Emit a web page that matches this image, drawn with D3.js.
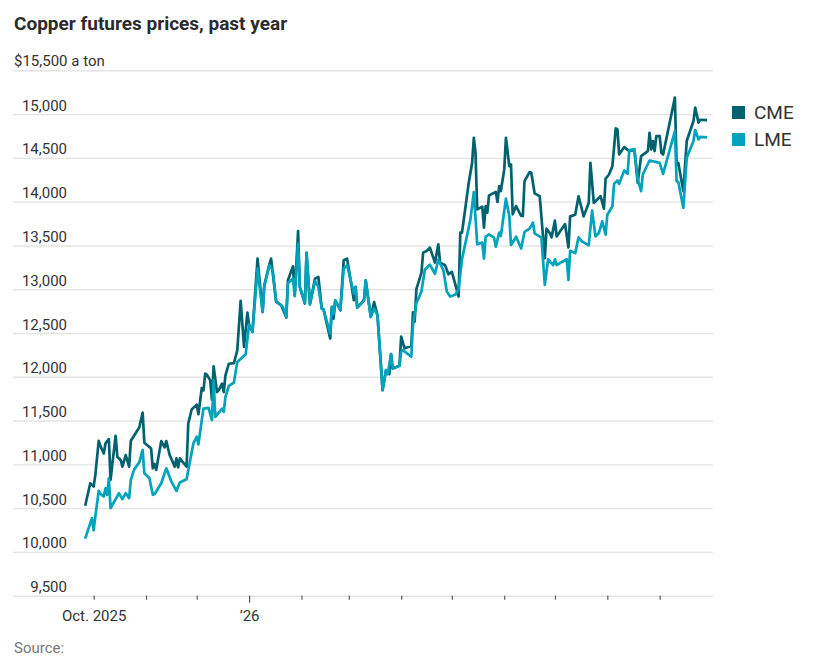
<!DOCTYPE html>
<html>
<head>
<meta charset="utf-8">
<script src="https://d3js.org/d3.v7.min.js"></script>
<style>
  html, body { margin: 0; padding: 0; background: #fff; }
  svg { display: block; }
  text { font-family: Roboto, "Noto Sans", sans-serif; }
</style>
</head>
<body>
<div id="graph"></div>
<script>
// days counted from 1 Oct 2025, values in dollars a ton
var cmeDays = [-5,-2,0,1,3,4,6,7,9,10,13,14,16,17,19,21,22,27,29,30,34,35,36,37,40,42,43,45,48,49,50,51,55,56,58,61,62,64,65,66,67,69,70,71,73,74,76,77,78,80,83,85,87,89,91,92,94,97,100,101,104,105,108,111,114,115,118,119,121,122,125,126,128,131,133,135,136,140,141,142,143,146,148,150,154,155,156,160,161,164,166,168,171,173,175,176,177,181,182,184,188,189,190,191,194,195,197,199,201,202,204,205,208,210,212,214,216,217,218,220,222,224,225,226,227,230,231,232,233,234,238,239,240,241,243,244,246,247,248,250,253,254,255,258,259,261,262,264,267,268,270,271,273,274,279,281,282,285,287,288,290,293,294,296,300,302,303,305,307,309,310,311,314,317,320,322,324,328,329,330,331,332,333,335,336,337,344,345,346,349,351,355,356,358,359,363];
var cmeValues = [10527,10784,10746,10879,11269,11209,11125,11239,11288,10822,11326,11087,11050,10974,11106,10974,11269,11421,11592,11247,11182,10955,11004,10936,11265,11194,11265,11106,10974,11068,10966,11068,10974,11466,11626,11682,11572,11872,11845,12035,12023,11959,11739,12118,11826,11845,11921,11826,12016,12149,12156,12300,12866,12342,12733,12589,12513,13349,12741,13045,13284,13349,12855,12817,12676,13102,13262,12931,13664,13026,12836,13414,12828,13121,13140,12779,12771,12437,12798,12665,12874,12760,13330,13349,12874,13026,12790,12874,13102,12684,12852,12703,11847,12076,12030,12260,12095,12126,12458,12325,12351,12737,12630,13000,13190,13418,13437,13475,13361,13304,13513,13304,13274,13171,13198,13057,12916,13646,13646,13931,14216,14444,14729,14558,13912,13942,13703,13950,13874,14072,14110,13996,14178,14121,14368,14729,14406,14425,13855,13950,13836,13836,14235,14338,14330,14094,14083,14062,13355,13691,13641,13592,13783,13603,13744,13477,13832,13851,14062,13985,13832,13985,14444,13985,14062,13920,14264,14310,14405,14837,14825,14539,14623,14577,14596,14214,14520,14577,14787,14596,14692,14577,14749,14749,14558,14539,15188,14424,14443,14119,14692,14921,15074,14902,14935,14930];

var lmeDays = [-5,-1,0,1,3,4,6,7,8,9,10,15,17,19,21,22,24,27,29,30,33,35,36,40,43,46,49,51,55,59,61,62,64,65,68,70,71,72,76,77,78,80,83,85,90,92,94,97,100,101,104,106,108,112,114,115,118,119,121,122,125,126,128,131,133,135,136,140,141,142,143,146,148,150,154,155,156,160,161,164,166,168,171,173,174,176,177,181,182,183,188,189,191,194,196,199,202,204,207,209,211,214,216,218,223,225,227,230,231,232,234,237,238,240,241,244,246,247,250,253,255,258,260,261,265,267,269,272,273,274,280,281,282,285,287,289,293,295,297,299,301,303,304,307,308,310,311,314,316,317,320,322,324,325,329,335,337,344,345,346,349,351,355,356,358,359,363];
var lmeValues = [10151,10386,10246,10405,10697,10663,10633,10727,10652,10841,10500,10670,10602,10670,10614,10822,10943,11023,11163,10898,10841,10652,10659,10784,10955,10803,10697,10792,10830,11239,11315,11228,11504,11637,11645,11504,11959,11542,11637,11599,11770,11895,11933,12168,12258,12600,12513,13235,12741,13034,13273,13216,12866,12798,12684,13072,13121,12920,13520,13026,12844,13414,12828,13094,13026,12779,12771,12494,12798,12722,12874,12760,13235,13273,12950,13026,12790,12874,13102,12684,12779,12703,11847,12076,12030,12260,12095,12126,12286,12305,12229,12592,12840,12974,13222,13280,13176,13337,13215,12974,12917,12936,13000,13342,13798,14110,13513,13532,13350,13600,13627,13589,13486,13646,13608,14034,13836,13505,13600,13464,13654,13692,13760,13638,13589,13049,13342,13274,13342,13277,13342,13107,13439,13412,13592,13546,13500,13897,13603,13641,13775,13622,13851,13947,14203,14241,14203,14356,14317,14589,14596,14253,14119,14310,14470,14443,14317,14806,14233,14226,13928,14500,14692,14818,14711,14740,14735];

var yTicks = [9500,10000,10500,11000,11500,12000,12500,13000,13500,14000,14500,15000,15500];
var seriesNames = ["CME","LME"];
var seriesColors = ["#00626f","#00a3bc"];

var width = 828, height = 668;
var start = Date.UTC(2025, 9, 1);
function toDate(day) { return new Date(start + day * 864e5); }

var svg = d3.select("#graph").append("svg")
  .attr("width", width)
  .attr("height", height);

svg.append("text")
  .attr("x", 14).attr("y", 30)
  .attr("font-size", 19).attr("font-weight", 700).attr("fill", "#2b2b2b")
  .text("Copper futures prices, past year");

var x = d3.scaleUtc()
  .domain([toDate(-5), toDate(363)])
  .range([85.2, 707]);
var y = d3.scaleLinear()
  .domain([9500, 15500])
  .range([595.7, 70.3]);

//horizontal grid and its labels
var yAxis = d3.axisLeft(y)
  .tickValues(yTicks)
  .tickSize(-700)
  .tickFormat(function (d) { return d3.format(",")(d); });
var gy = svg.append("g")
  .attr("transform", "translate(13,0)")
  .call(yAxis);
gy.select(".domain").remove();
gy.selectAll(".tick line")
  .attr("stroke", "#e4e4e4")
  .attr("stroke-width", 1.4);
gy.selectAll(".tick text")
  .attr("x", 54)
  .attr("dy", -4)
  .attr("font-size", 15)
  .attr("fill", "#333")
  .text(function (d) { return d === 15500 ? "" : d3.format(",")(d); });

svg.append("text")
  .attr("x", 14).attr("y", y(15500) - 4)
  .attr("font-size", 15).attr("fill", "#333")
  .text("$15,500 a ton");

//month ticks, only two of them are labelled
var xAxis = d3.axisBottom(x)
  .tickValues(d3.utcMonths(toDate(0), toDate(363)))
  .tickSize(4)
  .tickFormat(function (d) {
    if (d.getUTCMonth() === 9) return "Oct. 2025";
    if (d.getUTCMonth() === 0) return "\u201926";
    return "";
  });
var gx = svg.append("g")
  .attr("transform", "translate(0," + y(9500) + ")")
  .call(xAxis);
gx.select(".domain").remove();
gx.selectAll(".tick line")
  .attr("stroke", "#555")
  .attr("stroke-width", 1.2)
  .attr("y2", function (d) { return d.getUTCMonth() === 0 ? 7 : 4; });
gx.selectAll(".tick text")
  .attr("y", 15)
  .attr("font-size", 15)
  .attr("fill", "#333");

var line = d3.line()
  .x(function (d) { return x(toDate(d[0])); })
  .y(function (d) { return y(d[1]); });

[[cmeDays, cmeValues], [lmeDays, lmeValues]].forEach(function (s, i) {
  svg.append("path")
    .datum(d3.zip(s[0], s[1]))
    .attr("fill", "none")
    .attr("stroke", seriesColors[i])
    .attr("stroke-width", 2.7)
    .attr("stroke-linejoin", "round")
    .attr("d", line);
});

//legend
var legend = svg.selectAll(".legend")
  .data(seriesNames)
  .enter().append("g")
  .attr("class", "legend")
  .attr("transform", function (d, i) { return "translate(732," + (106 + i * 27) + ")"; });
legend.append("rect")
  .attr("width", 13).attr("height", 13)
  .attr("fill", function (d, i) { return seriesColors[i]; });
legend.append("text")
  .attr("x", 22).attr("y", 12.5)
  .attr("font-size", 19).attr("fill", "#333")
  .text(function (d) { return d; });

svg.append("text")
  .attr("x", 14).attr("y", 653)
  .attr("font-size", 15).attr("fill", "#777")
  .text("Source:");
</script>
</body>
</html>
